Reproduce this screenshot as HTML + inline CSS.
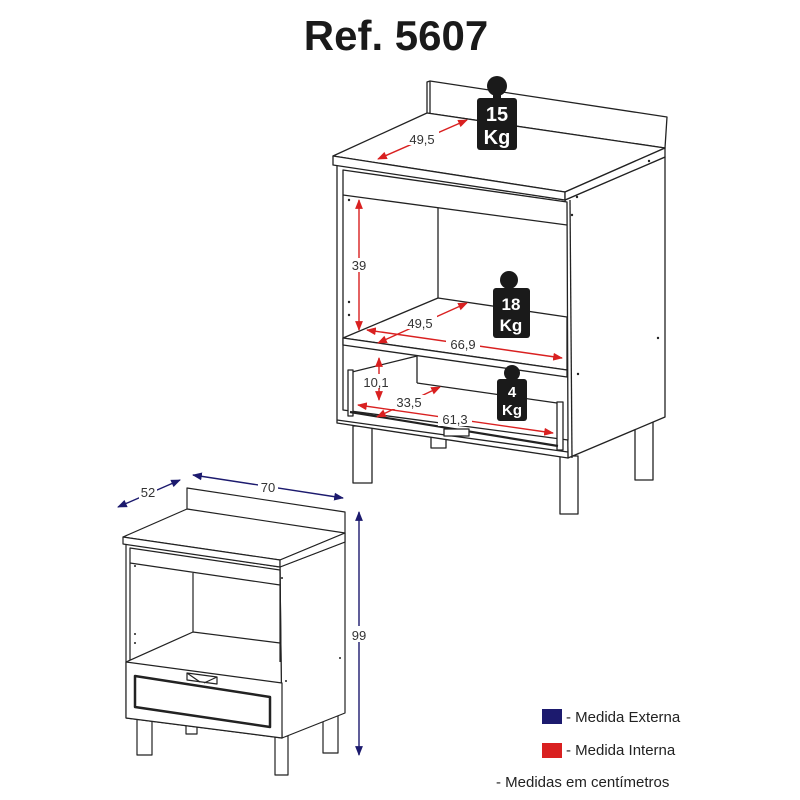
<!DOCTYPE html>
<html><head><meta charset="utf-8"><style>
html,body{margin:0;padding:0;background:#fff;width:800px;height:800px;overflow:hidden}
svg{display:block}
text{font-family:"Liberation Sans",Arial,sans-serif}
</style></head><body>
<svg width="800" height="800" viewBox="0 0 800 800" xmlns="http://www.w3.org/2000/svg">
<defs>
<marker id="ar" viewBox="0 0 10 10" refX="9" refY="5" markerWidth="7" markerHeight="7" orient="auto-start-reverse"><path d="M0,1 L10,5 L0,9 z" fill="#d92020"/></marker>
<marker id="ab" viewBox="0 0 10 10" refX="9" refY="5" markerWidth="7" markerHeight="7" orient="auto-start-reverse"><path d="M0,1 L10,5 L0,9 z" fill="#1c1a6e"/></marker>
</defs>
<text x="396" y="50" font-size="42" font-weight="bold" text-anchor="middle" fill="#1a1a1a">Ref. 5607</text>

<g fill="#fff" stroke="#222" stroke-width="1.3" stroke-linejoin="round">
<rect x="353" y="426" width="19" height="57"/>
<rect x="560" y="456" width="18" height="58"/>
<rect x="635" y="418" width="18" height="62"/>
<rect x="431" y="428" width="15" height="20"/>
<polygon points="427,82 430,81 667,117 665,148 427,113"/>
<line x1="430" y1="81" x2="430" y2="113"/>
<polygon points="565,200 665,157 665,417 568,458"/>
<line x1="570" y1="200" x2="572" y2="458"/>
<polygon points="337,165 565,200 568,458 337,423"/>
<polygon points="343,170 567,202 568,440 343,410"/>
<polygon points="333,156 427,113 665,148 565,192"/>
<polygon points="333,156 565,192 565,200 333,165"/>
<polygon points="565,192 665,148 665,157 565,200"/>
<line x1="343" y1="195" x2="567" y2="225"/>
<line x1="438" y1="208" x2="438" y2="298"/>
<polygon points="343,338 438,298 567,317 567,370"/>
<polygon points="343,338 567,370 567,377 343,345"/>
<line x1="352" y1="372" x2="417" y2="356"/>
<line x1="417" y1="356" x2="417" y2="383"/>
<line x1="417" y1="383" x2="557" y2="403"/>
<rect x="348" y="370" width="5" height="46"/>
<rect x="557" y="402" width="6" height="48"/>
<line x1="350" y1="412" x2="558" y2="446" stroke-width="2.2"/>
<line x1="337" y1="420" x2="568" y2="452"/>
<rect x="444" y="429" width="25" height="7"/>
</g>
<g fill="#222">
<circle cx="349" cy="200" r="1.2"/><circle cx="349" cy="302" r="1.2"/><circle cx="349" cy="315" r="1.2"/>
<circle cx="577" cy="197" r="1.2"/><circle cx="572" cy="215" r="1.2"/><circle cx="658" cy="338" r="1.2"/><circle cx="578" cy="374" r="1.2"/>
<circle cx="649" cy="161" r="1.2"/>
</g>
<g fill="#1a1a1a">
<circle cx="497" cy="86" r="10"/><rect x="493" y="92" width="8" height="8"/>
<rect x="477" y="98" width="40" height="52" rx="3"/>
<circle cx="509" cy="280" r="9"/><rect x="505" y="284" width="8" height="6"/>
<rect x="493" y="288" width="37" height="50" rx="3"/>
<circle cx="512" cy="373" r="8"/><rect x="508" y="377" width="8" height="4"/>
<rect x="497" y="379" width="30" height="42" rx="3"/>
</g>
<g fill="#fff" font-weight="bold" text-anchor="middle">
<text x="497" y="121" font-size="20">15</text><text x="497" y="144" font-size="20">Kg</text>
<text x="511" y="310" font-size="17">18</text><text x="511" y="331" font-size="17">Kg</text>
<text x="512" y="397" font-size="15">4</text><text x="512" y="415" font-size="15">Kg</text>
</g>
<g stroke="#d92020" stroke-width="1.4" fill="none">
<line x1="378" y1="159" x2="467" y2="120" marker-start="url(#ar)" marker-end="url(#ar)"/>
<line x1="359" y1="200" x2="359" y2="330" marker-start="url(#ar)" marker-end="url(#ar)"/>
<line x1="378" y1="343" x2="467" y2="303" marker-start="url(#ar)" marker-end="url(#ar)"/>
<line x1="367" y1="330" x2="562" y2="358" marker-start="url(#ar)" marker-end="url(#ar)"/>
<line x1="379" y1="358" x2="379" y2="400" marker-start="url(#ar)" marker-end="url(#ar)"/>
<line x1="377" y1="417" x2="440" y2="387" marker-start="url(#ar)" marker-end="url(#ar)"/>
<line x1="358" y1="405" x2="553" y2="433" marker-start="url(#ar)" marker-end="url(#ar)"/>
</g>
<g font-size="13" fill="#333" text-anchor="middle">
<rect x="405" y="131" width="34" height="14" fill="#fff"/><text x="422" y="144">49,5</text>
<rect x="350" y="258" width="18" height="14" fill="#fff"/><text x="359" y="270">39</text>
<rect x="403" y="315" width="34" height="14" fill="#fff"/><text x="420" y="328">49,5</text>
<rect x="446" y="336" width="34" height="14" fill="#fff"/><text x="463" y="349">66,9</text>
<rect x="361" y="374" width="30" height="14" fill="#fff"/><text x="376" y="387">10,1</text>
<rect x="392" y="395" width="34" height="14" fill="#fff"/><text x="409" y="407">33,5</text>
<rect x="438" y="412" width="34" height="14" fill="#fff"/><text x="455" y="424">61,3</text>
</g>

<g fill="#fff" stroke="#222" stroke-width="1.2" stroke-linejoin="round">
<rect x="137" y="716" width="15" height="39"/>
<rect x="275" y="736" width="13" height="39"/>
<rect x="323" y="712" width="15" height="41"/>
<rect x="186" y="722" width="11" height="12"/>
<polygon points="187,488 345,512 345,542 187,509"/>
<polygon points="280,567 345,542 345,713 282,738"/>
<polygon points="126,544 280,567 282,738 126,718"/>
<polyline points="130,660 130,548 280,570 280,662" fill="none"/>
<polygon points="123,537 187,509 345,533 280,560"/>
<polygon points="123,537 280,560 280,567 123,544"/>
<polygon points="280,560 345,533 345,542 280,567"/>
<line x1="130" y1="563" x2="280" y2="585"/>
<line x1="193" y1="573" x2="193" y2="632"/>
<polyline points="126,662 193,632 280,643" fill="none"/>
<polygon points="126,662 282,683 282,738 126,718"/>
<polygon points="135,676 270,697 270,727 135,707" stroke-width="2.5"/>
<polygon points="187,673 217,677 217,684 187,680"/>
<line x1="187" y1="673" x2="200" y2="682"/>
<line x1="217" y1="677" x2="204" y2="683"/>
</g>
<g fill="#222"><circle cx="135" cy="566" r="1"/><circle cx="135" cy="634" r="1"/><circle cx="135" cy="643" r="1"/><circle cx="282" cy="578" r="1"/><circle cx="340" cy="658" r="1"/><circle cx="286" cy="681" r="1"/></g>
<g stroke="#1c1a6e" stroke-width="1.4" fill="none">
<line x1="118" y1="507" x2="180" y2="480" marker-start="url(#ab)" marker-end="url(#ab)"/>
<line x1="193" y1="475" x2="343" y2="498" marker-start="url(#ab)" marker-end="url(#ab)"/>
<line x1="359" y1="512" x2="359" y2="755" marker-start="url(#ab)" marker-end="url(#ab)"/>
</g>
<g font-size="13" fill="#333" text-anchor="middle">
<rect x="139" y="485" width="18" height="14" fill="#fff"/><text x="148" y="497">52</text>
<rect x="258" y="480" width="20" height="14" fill="#fff"/><text x="268" y="492">70</text>
<rect x="350" y="626" width="18" height="16" fill="#fff"/><text x="359" y="640">99</text>
</g>

<rect x="542" y="709" width="20" height="15" fill="#1c1a6e"/>
<rect x="542" y="743" width="20" height="15" fill="#d92020"/>
<g font-size="15" fill="#222">
<text x="566" y="722">- Medida Externa</text>
<text x="566" y="755">- Medida Interna</text>
<text x="496" y="787">- Medidas em centímetros</text>
</g>
</svg>
</body></html>
